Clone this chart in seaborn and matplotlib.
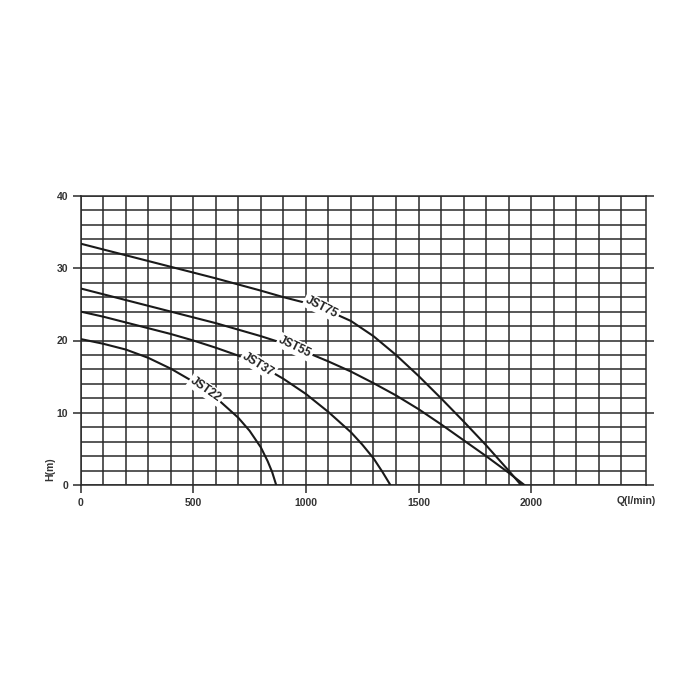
import numpy as np
import pandas as pd
import matplotlib
matplotlib.use("Agg")
import matplotlib.pyplot as plt
import seaborn as sns

# ---- data (Q in l/min, H in m) ----
q75 = [0, 100, 200, 300, 400, 500, 600, 700, 800, 900, 1000, 1100, 1200, 1300,
       1400, 1500, 1600, 1700, 1800, 1900, 1955]
h75 = [33.4, 32.6, 31.8, 31.0, 30.2, 29.4, 28.6, 27.75, 26.9, 26.0, 25.2, 24.1,
       22.7, 20.6, 18.0, 15.1, 12.0, 8.8, 5.5, 2.0, 0]

q55 = [0, 100, 200, 300, 400, 500, 600, 700, 800, 900, 1000, 1100, 1200, 1300,
       1400, 1500, 1600, 1700, 1800, 1900, 1970]
h55 = [27.2, 26.4, 25.6, 24.8, 24.0, 23.2, 22.4, 21.5, 20.6, 19.6, 18.4, 17.1,
       15.7, 14.1, 12.4, 10.5, 8.4, 6.2, 4.0, 1.7, 0]

q37 = [0, 100, 200, 300, 400, 500, 600, 700, 800, 900, 1000, 1100, 1200, 1250,
       1300, 1340, 1375]
h37 = [24.0, 23.3, 22.5, 21.7, 20.9, 20.0, 19.0, 17.9, 16.5, 14.7, 12.6, 10.1,
       7.3, 5.6, 3.7, 1.8, 0]

q22 = [0, 100, 200, 300, 400, 500, 600, 700, 750, 800, 830, 850, 868]
h22 = [20.2, 19.55, 18.75, 17.6, 16.1, 14.3, 12.1, 9.3, 7.5, 5.2, 3.3, 1.8, 0]

series_names = ["JST75", "JST55", "JST37", "JST22"]
label_q = [1070, 952, 789, 555]
label_h = [24.6, 19.1, 16.7, 13.2]
label_rot = [-27, -26, -32, -35]

x_ticks = [0, 500, 1000, 1500, 2000]
y_ticks = [0, 10, 20, 30, 40]

frames = []
for name, q, h in zip(series_names, [q75, q55, q37, q22], [h75, h55, h37, h22]):
    frames.append(pd.DataFrame({"Q": q, "H": h, "pump": name}))
df = pd.concat(frames, ignore_index=True)

sns.set_style("white")
plt.rcParams["font.family"] = ["Liberation Sans Narrow", "Liberation Sans", "DejaVu Sans"]

fig = plt.figure(figsize=(7, 7), dpi=100)
ax = fig.add_axes([80.7 / 700, 1 - 485 / 700, 565.3 / 700, 289 / 700])

sns.lineplot(data=df, x="Q", y="H", units="pump", estimator=None, sort=False,
             color="#1a1a1a", linewidth=1.5, ax=ax, zorder=3)

ax.set_xlim(0, 2510)
ax.set_ylim(0, 40)
ax.set_xticks(x_ticks)
ax.set_xticklabels([str(v) for v in x_ticks])
ax.set_yticks(y_ticks)
ax.set_yticklabels([str(v) for v in y_ticks])
ax.set_xticks(np.arange(0, 2401, 100), minor=True)
ax.set_yticks(np.arange(0, 41, 2), minor=True)
ax.grid(which="both", color="#2a2a2a", linewidth=1.1, zorder=1)
ax.set_axisbelow(True)

ax.tick_params(axis="x", which="major", direction="out", length=6, width=1.1,
               color="#2a2a2a", labelsize=7.5, pad=3, bottom=True)
ax.tick_params(axis="y", which="major", direction="out", length=6, width=1.1,
               color="#2a2a2a", labelsize=7.5, pad=3, left=True, right=True)
ax.tick_params(which="minor", length=0)
for lab in ax.get_xticklabels() + ax.get_yticklabels():
    lab.set_fontweight("bold")
    lab.set_color("#333333")

for s in ax.spines.values():
    s.set_color("#2a2a2a")
    s.set_linewidth(1.1)
    s.set_visible(True)

ax.set_xlabel("")
ax.set_ylabel("")
ax.text(-0.054, 0.055, "H(m)", transform=ax.transAxes, rotation=90,
        ha="center", va="center", fontsize=7.5, fontweight="bold", color="#333333")
ax.text(0.982, -0.055, "Q(l/min)", transform=ax.transAxes,
        ha="center", va="center", fontsize=7.5, fontweight="bold", color="#333333")

for name, lq, lh, rot in zip(series_names, label_q, label_h, label_rot):
    ax.text(lq, lh, name, rotation=rot, rotation_mode="anchor", ha="center", va="center",
            fontsize=8.5, fontweight="bold", color="#222222", zorder=5,
            bbox=dict(boxstyle="square,pad=0.15", facecolor="white", edgecolor="none"))

if ax.get_legend() is not None:
    ax.get_legend().remove()

fig.savefig("out.png", dpi=100, facecolor="white")
